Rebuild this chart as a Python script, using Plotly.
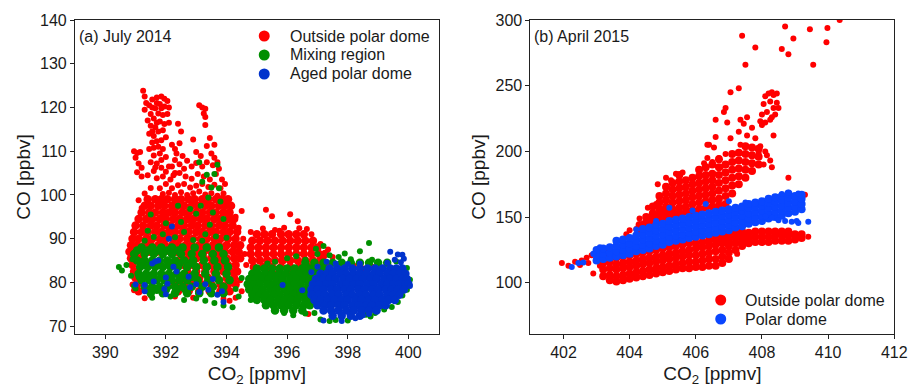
import plotly.graph_objects as go

# ---------------- Panel (a) July 2014 ----------------
# dense rows: (CO [ppbv], [CO2 values])
outside_a_rows = [
    (99.0, [391.4, 391.65, 391.85, 392.05, 392.3, 392.5, 392.75, 392.95, 393.2, 393.4, 393.65, 393.85, 394.05]),
    (97.5, [391.3, 391.5, 391.75, 391.95, 392.2, 392.4, 392.6, 392.85, 393.05, 393.3, 393.5, 393.75, 393.95, 394.15]),
    (96.0, [391.2, 391.45, 391.65, 391.9, 392.1, 392.3, 392.55, 392.75, 393.0, 393.2, 393.45, 393.65, 393.9, 394.1]),
    (94.5, [391.1, 391.35, 391.55, 391.8, 392.0, 392.25, 392.45, 392.7, 392.9, 393.15, 393.35, 393.6, 393.8, 394.05, 394.25]),
    (93.0, [391.0, 391.25, 391.5, 391.7, 391.95, 392.15, 392.4, 392.6, 392.85, 393.05, 393.3, 393.5, 393.75, 393.95, 394.2]),
    (91.5, [390.95, 391.2, 391.4, 391.65, 391.85, 392.1, 392.3, 392.55, 392.75, 393.0, 393.2, 393.45, 393.65, 393.9, 394.1, 394.35]),
    (90.0, [390.9, 391.1, 391.35, 391.55, 391.8, 392.0, 392.25, 392.45, 392.7, 392.9, 393.15, 393.35, 393.6, 393.8, 394.05, 394.3]),
    (88.5, [390.85, 391.05, 391.3, 391.5, 391.75, 391.95, 392.2, 392.4, 392.65, 392.85, 393.1, 393.3, 393.55, 393.75, 394.0, 394.25, 394.45]),
    (87.0, [390.8, 391.0, 391.25, 391.45, 391.7, 391.9, 392.15, 392.35, 392.6, 392.8, 393.05, 393.25, 393.5, 393.7, 393.95, 394.2, 394.4]),
    (85.5, [390.85, 391.1, 392.5, 392.75, 393.0, 393.25, 393.5, 393.75, 394.0, 394.25, 394.45]),
    (84.0, [390.9, 392.6, 392.9, 393.2, 393.5, 393.8, 394.05, 394.3]),
    (82.5, [390.95, 392.7, 393.0, 393.3, 393.6, 393.9, 394.15, 394.35]),
    (81.0, [391.0, 392.5, 392.8, 393.1, 393.4, 393.7, 394.0, 394.25]),
    (79.5, [391.05, 392.3, 392.6, 392.9, 393.2, 393.5, 393.8, 394.05, 394.3]),
    (78.0, [391.1, 392.4, 392.75, 393.1, 393.45, 393.8, 394.1]),
    (91.0, [395.0, 395.25, 395.5, 395.8, 396.05, 396.3, 396.55]),
    (89.5, [394.85, 395.1, 395.35, 395.6, 395.85, 396.1, 396.35, 396.6, 396.85]),
    (88.0, [394.8, 395.05, 395.3, 395.55, 395.8, 396.05, 396.3, 396.55, 396.8, 397.0]),
    (86.5, [394.8, 395.05, 395.3, 395.55, 395.8, 396.05, 396.3, 396.55, 396.8, 397.05, 397.25]),
    (85.0, [394.85, 395.1, 395.35, 395.6, 395.85, 396.1, 396.35, 396.6, 396.85, 397.1]),
    (83.5, [394.9, 395.2, 395.5, 395.8, 396.1, 396.4, 396.7, 397.0, 397.3]),
    (82.0, [395.0, 395.35, 395.7, 396.05, 396.4, 396.75, 397.1]),
]
outside_a_pts = [
    (391.25, 123.8), (391.3, 122.5), (391.35, 121.0), (391.3, 119.5), (391.45, 120.5), (391.55, 121.8),
    (391.7, 122.3), (391.85, 122.5), (391.95, 122.0), (392.05, 121.5), (392.1, 120.0), (391.95, 120.2),
    (391.8, 120.8), (391.65, 119.8), (391.5, 118.5), (391.4, 117.0), (391.6, 117.5), (391.75, 118.6),
    (391.9, 118.3), (392.05, 118.5), (392.1, 116.5), (391.95, 116.2), (391.8, 116.8), (391.65, 115.5),
    (391.5, 115.8), (391.45, 114.0), (391.6, 113.5), (391.75, 114.5), (391.9, 114.8), (392.0, 113.2),
    (391.85, 112.5), (391.55, 112.0), (391.45, 110.5), (391.6, 110.8), (391.75, 111.0), (391.6, 109.0),
    (391.8, 109.5), (391.9, 110.5), (392.0, 108.7), (391.5, 107.5), (391.7, 107.2), (391.85, 106.2),
    (392.1, 106.5), (391.6, 105.5), (391.4, 104.5), (391.7, 103.8), (391.9, 104.2), (392.15, 103.5),
    (392.3, 110.5), (392.3, 105.0), (391.7, 121.0), (391.55, 120.0), (391.7, 116.5), (391.85, 119.8),
    (391.55, 114.5), (391.7, 112.3), (391.85, 108.0), (391.65, 106.3),
    (390.95, 110.0), (391.05, 109.6), (391.15, 109.8), (391.0, 108.5), (391.1, 107.2), (391.2, 106.2),
    (391.05, 105.2), (391.2, 104.2),
    (392.4, 116.3), (392.5, 114.5), (392.45, 111.8),
    (393.1, 120.5), (393.2, 120.0), (393.3, 119.7), (393.25, 118.6), (393.3, 117.8), (393.3, 116.0),
    (392.9, 112.7), (393.0, 109.8), (393.15, 108.9), (393.35, 111.2), (393.5, 109.5), (393.6, 108.5),
    (393.7, 107.5), (393.75, 106.0), (393.55, 106.8), (393.35, 107.5), (393.2, 106.5), (393.0, 107.3),
    (392.85, 106.5), (392.7, 107.8), (392.6, 106.0), (392.45, 107.0), (392.3, 108.0), (392.2, 106.5),
    (392.0, 105.3), (392.25, 104.5), (392.45, 105.0), (392.65, 104.2), (392.85, 103.7), (393.05, 104.8),
    (393.25, 104.2), (393.45, 103.5), (393.65, 104.8), (393.85, 103.5), (393.95, 102.5), (393.8, 101.5),
    (393.6, 102.3), (393.4, 101.8), (393.2, 102.5), (393.0, 102.1), (392.8, 101.7), (392.6, 102.5),
    (392.4, 102.2), (392.2, 101.5), (392.0, 102.5), (391.8, 101.5), (391.9, 100.2), (392.1, 100.5),
    (392.3, 100.0), (392.5, 100.6), (392.7, 100.0), (392.9, 100.4), (393.1, 100.8), (393.3, 100.1),
    (393.5, 100.4), (393.7, 99.8), (393.9, 100.3), (392.55, 108.9), (392.35, 109.5), (393.6, 111.5),
    (393.45, 113.0), (392.2, 111.5), (391.5, 101.6), (391.3, 100.3), (391.1, 98.8), (391.2, 97.0),
    (394.5, 96.3), (394.3, 95.0), (394.4, 92.5), (394.55, 90.0),
    (395.3, 96.6), (395.5, 95.1), (396.1, 95.6), (396.35, 94.0), (395.9, 92.5), (396.65, 92.2),
    (395.75, 91.8), (396.4, 92.4), (395.6, 92.0), (396.8, 91.0), (395.2, 92.3), (394.8, 91.5),
    (397.1, 88.8), (397.35, 87.5), (397.5, 85.8), (397.2, 85.3), (398.2, 83.8), (398.5, 83.2),
    (398.8, 83.6), (399.1, 82.9), (396.7, 72.8), (394.45, 80.5), (394.5, 78.0), (394.3, 76.5),
    (394.1, 75.8), (393.9, 76.2), (392.9, 76.5), (392.3, 76.8), (391.3, 76.4), (391.5, 77.0),
    (390.9, 79.5), (390.95, 78.2), (394.65, 84.0), (394.6, 86.5),
]

mixing_a_rows = [
    (88.0, [391.2, 391.55, 391.85, 392.2, 392.55, 392.95, 393.35, 393.75]),
    (87.3, [391.05, 391.4, 391.75, 392.05, 392.4]),
    (86.5, [390.95, 391.3, 391.6, 391.9, 392.2, 392.5, 392.85, 393.2, 393.55, 393.9]),
    (85.0, [391.05, 391.3, 391.55, 391.8, 392.05, 392.3, 392.6, 392.9, 393.25, 393.6, 393.95]),
    (84.3, [391.2, 391.5, 391.8, 392.1, 392.45, 392.8]),
    (83.5, [391.15, 391.4, 391.65, 391.9, 392.15, 392.4, 392.7, 393.0, 393.35, 393.7, 394.05]),
    (82.0, [391.1, 391.35, 391.6, 391.85, 392.1, 392.35, 392.6, 392.95, 393.3, 393.65, 394.0]),
    (81.3, [391.25, 391.55, 391.85, 392.15, 392.5, 392.85]),
    (80.5, [391.2, 391.45, 391.7, 391.95, 392.2, 392.45, 392.7, 393.05, 393.4, 393.75, 394.1]),
    (79.0, [391.3, 391.55, 391.8, 392.05, 392.3, 392.55, 392.85, 393.2, 393.55, 393.9]),
    (78.3, [391.4, 391.7, 392.0, 392.35, 392.65]),
    (77.5, [391.5, 391.9, 392.3, 392.7, 393.1, 393.5, 393.9]),
    (84.5, [396.6, 396.9, 397.2, 397.5, 397.8, 398.1, 398.4, 398.7, 399.0, 399.3]),
    (83.2, [395.0, 395.25, 395.5, 395.75, 396.0, 396.25, 396.5, 396.75, 397.0, 397.2]),
    (82.0, [394.85, 395.05, 395.3, 395.5, 395.75, 395.95, 396.2, 396.4, 396.65, 396.85, 397.05]),
    (80.8, [394.75, 394.95, 395.2, 395.4, 395.65, 395.85, 396.1, 396.3, 396.55, 396.75, 396.95]),
    (79.6, [394.7, 394.9, 395.1, 395.35, 395.55, 395.8, 396.0, 396.25, 396.45, 396.7, 396.9]),
    (78.4, [394.75, 395.0, 395.2, 395.45, 395.65, 395.9, 396.1, 396.35, 396.55, 396.8]),
    (77.2, [394.85, 395.1, 395.3, 395.55, 395.75, 396.0, 396.2, 396.45, 396.65, 396.85]),
    (76.0, [395.0, 395.25, 395.45, 395.7, 395.9, 396.15, 396.35, 396.6, 396.8]),
    (74.8, [395.3, 395.55, 395.8, 396.05, 396.3, 396.55, 396.75]),
    (73.6, [395.6, 395.9, 396.2, 396.5]),
]
mixing_a_pts = [
    (390.45, 83.5), (390.55, 82.7), (390.7, 84.0), (390.9, 85.3), (390.85, 81.5), (390.95, 79.2),
    (391.0, 78.6), (391.1, 81.2),
    (391.5, 95.5), (391.4, 91.8), (391.6, 90.4), (392.0, 93.5), (392.3, 90.3), (392.6, 91.5),
    (392.9, 89.7), (393.2, 89.5), (393.0, 95.7), (393.15, 97.5), (393.4, 99.4), (393.5, 101.7),
    (393.35, 104.6), (393.2, 103.0), (393.6, 104.8), (393.7, 106.9), (393.1, 107.5), (393.75, 101.5),
    (393.8, 98.5), (392.8, 96.8), (393.55, 96.0), (393.9, 94.5), (392.4, 97.5), (394.0, 90.2),
    (391.3, 89.5), (391.9, 91.0), (392.5, 93.8), (393.45, 93.2), (393.3, 91.0), (393.65, 90.5),
    (391.55, 76.5), (392.15, 76.8), (393.3, 75.8), (393.6, 75.3), (393.9, 74.7), (394.4, 76.8),
    (394.8, 76.0), (393.0, 76.3), (392.6, 76.0), (394.3, 78.5), (394.5, 81.0), (394.2, 74.3),
    (396.95, 87.7), (397.2, 88.3), (397.0, 86.5), (397.4, 86.2), (397.7, 85.8), (398.1, 85.3),
    (398.4, 87.1), (398.7, 89.0), (398.8, 85.2), (396.3, 86.0), (396.0, 85.5), (395.6, 84.7),
    (395.35, 84.3), (396.6, 85.2), (397.9, 86.6), (399.6, 84.8),
    (397.1, 71.5), (397.4, 71.2), (397.6, 71.4), (398.0, 71.3), (398.6, 72.6), (398.9, 73.0),
    (399.2, 73.8), (399.45, 74.4), (399.65, 75.5), (399.8, 77.0), (399.95, 78.3), (400.05, 80.6),
    (399.95, 83.3), (398.75, 72.2), (396.2, 72.5), (395.9, 73.0), (396.9, 73.0), (396.6, 72.9),
]

aged_a_rows = [
    (83.2, [397.4, 397.65, 397.9, 398.15, 398.4, 398.65, 398.9, 399.15, 399.4, 399.6, 399.8]),
    (82.0, [397.1, 397.3, 397.5, 397.75, 397.95, 398.2, 398.4, 398.6, 398.85, 399.05, 399.3, 399.5, 399.7, 399.9]),
    (80.8, [396.95, 397.2, 397.4, 397.6, 397.85, 398.05, 398.3, 398.5, 398.75, 398.95, 399.2, 399.4, 399.6, 399.8, 399.95]),
    (79.6, [396.85, 397.05, 397.3, 397.5, 397.75, 397.95, 398.2, 398.4, 398.65, 398.85, 399.1, 399.3, 399.5, 399.7, 399.9, 400.0]),
    (78.4, [396.8, 397.0, 397.2, 397.45, 397.65, 397.9, 398.1, 398.35, 398.55, 398.8, 399.0, 399.25, 399.45, 399.65, 399.85]),
    (77.2, [396.8, 397.05, 397.25, 397.5, 397.7, 397.95, 398.15, 398.4, 398.6, 398.85, 399.05, 399.3, 399.5, 399.7]),
    (76.0, [396.9, 397.1, 397.35, 397.55, 397.8, 398.0, 398.25, 398.45, 398.7, 398.9, 399.15, 399.35, 399.55]),
    (74.8, [397.0, 397.25, 397.45, 397.7, 397.9, 398.15, 398.35, 398.6, 398.8, 399.05, 399.25]),
    (73.6, [397.2, 397.45, 397.7, 397.95, 398.2, 398.45, 398.7, 398.95]),
    (72.4, [397.5, 397.8, 398.1, 398.4]),
]
aged_a_pts = [
    (399.4, 87.0), (399.65, 86.4), (399.8, 86.3), (399.75, 84.6), (399.55, 85.2), (399.85, 85.4),
    (399.3, 84.5), (397.6, 84.3), (398.0, 84.2), (398.4, 84.3), (397.3, 84.7), (396.8, 82.3),
    (397.0, 83.6), (397.2, 71.3), (397.8, 71.2), (398.25, 71.8), (398.5, 72.5), (400.05, 79.2),
    (398.7, 72.8),
    (391.0, 79.5), (391.3, 78.0), (391.6, 80.2), (391.75, 85.0), (391.55, 84.3), (391.65, 84.8),
    (392.1, 90.0), (392.2, 92.8), (392.0, 77.3), (392.05, 79.7), (391.95, 78.5), (392.25, 83.6),
    (392.35, 82.5), (392.75, 81.3), (392.8, 78.9), (393.0, 79.6), (393.1, 77.8), (393.3, 79.6),
    (393.4, 78.3), (393.55, 80.8), (393.7, 77.2), (393.85, 78.0), (393.9, 75.5), (395.85, 79.4),
    (396.5, 78.2), (391.3, 79.4), (392.0, 81.1),
]

# ---------------- Panel (b) April 2015 ----------------
# dense columns: (CO2 [ppmv], [CO values])
outside_b_cols = [
    (403.2, [105, 110, 115, 120, 124]),
    (403.4, [102, 106, 111, 116, 121]),
    (403.6, [101, 105, 110, 114, 119, 123]),
    (403.8, [102, 106, 111, 115, 120, 125]),
    (404.0, [103, 107, 112, 116, 121, 126]),
    (404.2, [104, 108, 113, 117, 122, 127]),
    (404.4, [105, 109, 114, 118, 123, 128]),
    (404.6, [106, 110, 115, 119, 124, 129]),
    (404.8, [107, 111, 116, 120, 125, 130]),
    (405.0, [108, 112, 117, 121, 126, 131]),
    (405.2, [109, 113, 118, 122, 127, 132]),
    (405.4, [110, 114, 119, 123, 128, 132]),
    (405.6, [111, 115, 120, 124, 129, 133]),
    (405.8, [111, 116, 121, 125, 130, 134]),
    (406.0, [112, 116, 121, 126, 130, 135]),
    (406.2, [112, 117, 122, 127, 131, 136]),
    (406.4, [113, 118, 123, 128, 132, 136]),
    (406.6, [113, 118, 124, 129, 133, 137]),
    (406.8, [115, 120, 125, 130, 134, 138]),
    (407.0, [118, 123, 128, 132, 136, 139]),
    (407.2, [125, 130, 134, 138]),
    (407.4, [128, 132, 136, 139]),
    (407.6, [130, 134, 138]),
    (407.8, [131, 135, 139]),
    (408.0, [131, 135, 139]),
    (408.2, [131, 135, 139]),
    (408.4, [132, 136, 139]),
    (408.6, [132, 136, 139]),
    (408.8, [132, 136, 139]),
    (409.0, [133, 137]),
    (409.2, [134, 137]),
    # upper cloud above the polar-dome band
    (404.3, [140, 144]),
    (404.5, [142, 146, 150]),
    (404.7, [145, 149, 153, 158]),
    (404.9, [148, 152, 156, 161, 166]),
    (405.1, [150, 154, 158, 163, 168, 173]),
    (405.3, [152, 156, 161, 166, 171, 176]),
    (405.5, [153, 157, 162, 167, 172, 177, 182]),
    (405.7, [154, 158, 163, 168, 173, 178]),
    (405.9, [155, 160, 165, 170, 175, 180]),
    (406.1, [156, 161, 166, 171, 176, 181, 186]),
    (406.3, [157, 162, 167, 172, 177, 182, 188]),
    (406.5, [158, 163, 168, 173, 178, 183, 190]),
    (406.7, [159, 164, 170, 176, 182, 188, 194]),
    (406.9, [160, 166, 172, 178, 184, 190]),
    (407.1, [168, 174, 180, 186, 192, 198]),
    (407.3, [175, 181, 187, 193, 199]),
    (407.5, [180, 186, 192, 198, 204]),
    (407.7, [185, 191, 197, 203]),
    (407.9, [190, 196, 202]),
]
outside_b_pts = [
    (401.95, 115), (402.15, 113), (402.35, 116), (402.55, 117), (402.7, 119), (402.85, 121),
    (402.9, 107), (403.0, 118), (403.05, 123), (403.1, 113), (402.75, 115), (402.5, 113.5),
    (403.9, 137), (404.0, 140), (404.2, 141), (404.4, 145), (404.3, 149), (404.6, 148), (404.7, 152),
    (404.55, 157), (404.8, 160), (404.95, 153), (405.1, 150), (404.85, 175),
    (405.25, 178), (405.4, 183), (405.6, 184), (405.1, 180),
    (406.25, 191), (406.35, 195), (406.5, 192),
    (406.35, 205), (406.55, 203), (406.7, 195), (406.75, 188),
    (406.9, 198), (407.35, 205),
    (407.55, 212), (407.7, 218), (407.45, 221), (407.35, 224), (407.55, 226), (407.8, 210), (407.95, 204),
    (408.1, 200), (408.25, 193), (408.3, 188), (408.15, 197), (407.9, 199), (408.05, 190),
    (407.3, 215), (407.05, 210), (406.6, 211), (406.9, 233), (406.85, 230),
    (406.95, 222), (406.6, 224), (406.4, 205),
    (408.0, 228), (408.05, 236), (408.1, 242), (408.2, 244), (408.3, 245), (408.35, 243), (408.45, 244),
    (408.25, 238), (408.35, 233), (408.15, 230), (408.4, 228), (408.5, 233), (408.45, 237), (408.25, 224),
    (408.1, 222), (408.3, 226), (408.0, 220), (407.95, 223),
    (407.3, 248), (407.05, 245), (407.5, 266), (407.4, 288), (407.8, 279), (408.6, 278), (408.8, 274),
    (408.7, 295), (408.95, 286), (409.45, 293), (409.95, 283), (409.98, 294), (410.35, 300),
    (409.55, 266), (408.35, 212), (408.8, 180), (409.3, 167), (409.4, 135), (407.25, 122),
]

polar_b_cols = [
    (403.0, [117, 121, 125]),
    (403.2, [118, 122, 126]),
    (403.4, [119, 123, 127]),
    (403.6, [120, 124, 128, 132]),
    (403.8, [121, 125, 129, 133]),
    (404.0, [122, 126, 130, 134]),
    (404.2, [124, 128, 132, 136]),
    (404.4, [125, 129, 133, 137, 141]),
    (404.6, [126, 130, 134, 138, 142]),
    (404.8, [128, 132, 136, 140, 144]),
    (405.0, [129, 133, 137, 141, 145]),
    (405.2, [131, 135, 139, 143, 147]),
    (405.4, [132, 136, 140, 144, 148]),
    (405.6, [133, 137, 141, 145, 149]),
    (405.8, [134, 138, 142, 146, 150]),
    (406.0, [135, 139, 143, 147, 151]),
    (406.2, [136, 140, 144, 148, 152]),
    (406.4, [137, 141, 145, 149, 153]),
    (406.6, [138, 142, 146, 150, 154]),
    (406.8, [139, 143, 147, 151, 155]),
    (407.0, [140, 144, 148, 152, 156]),
    (407.2, [142, 146, 150, 154, 157]),
    (407.4, [143, 147, 151, 155, 158]),
    (407.6, [145, 149, 153, 157, 160]),
    (407.8, [146, 150, 154, 158, 161]),
    (408.0, [147, 151, 155, 159, 162]),
    (408.2, [149, 153, 157, 161, 164]),
    (408.4, [150, 154, 158, 162, 165]),
    (408.6, [151, 155, 159, 163, 166]),
    (408.8, [153, 157, 161, 165, 168]),
    (409.0, [154, 158, 162, 166]),
    (409.2, [156, 160, 164, 167]),
]
polar_b_pts = [
    (402.25, 112), (402.45, 115), (402.6, 115.5), (402.9, 122), (403.1, 127), (404.2, 140.5),
    (405.2, 157), (406.3, 160), (407.0, 162), (408.5, 147.5), (408.7, 147), (408.9, 146.5),
    (409.05, 147), (409.1, 145.5), (409.4, 146.5), (408.3, 149.5), (408.1, 150.5), (409.1, 168),
    (408.6, 167.5), (408.8, 168.5), (407.5, 161), (405.9, 155), (404.8, 147),
]

legend_a_names = ["Outside polar dome", "Mixing region", "Aged polar dome"]
legend_b_names = ["Outside polar dome", "Polar dome"]

RED = "#ff0000"
GREEN = "#008f00"
BLUE_A = "#0033cc"
BLUE_B = "#0a46ff"
FONT = "Liberation Sans, Arial, sans-serif"
TXT = "#1a1a1a"
DENSE_A, DENSE_B, SPARSE = 8.5, 8.0, 6.0


def from_rows(rows, pts, dense):
    xs, ys, ss = [], [], []
    for y, xlist in rows:
        for x in xlist:
            xs.append(x); ys.append(y); ss.append(dense)
    for x, y in pts:
        xs.append(x); ys.append(y); ss.append(SPARSE)
    return xs, ys, ss


def from_cols(cols, pts, dense):
    xs, ys, ss = [], [], []
    for x, ylist in cols:
        for y in ylist:
            xs.append(x); ys.append(y); ss.append(dense)
    for x, y in pts:
        xs.append(x); ys.append(y); ss.append(SPARSE)
    return xs, ys, ss


fig = go.Figure()


def add_series(data, color, name, xa, ya):
    xs, ys, ss = data
    fig.add_trace(go.Scatter(x=xs, y=ys, mode="markers", xaxis=xa, yaxis=ya, name=name,
                             marker=dict(color=color, size=ss, opacity=1, line=dict(width=0)),
                             showlegend=False, hoverinfo="skip"))


add_series(from_rows(outside_a_rows, outside_a_pts, DENSE_A), RED, legend_a_names[0], "x", "y")
add_series(from_rows(mixing_a_rows, mixing_a_pts, DENSE_A), GREEN, legend_a_names[1], "x", "y")
add_series(from_rows(aged_a_rows, aged_a_pts, DENSE_A), BLUE_A, legend_a_names[2], "x", "y")
add_series(from_cols(outside_b_cols, outside_b_pts, DENSE_B), RED, legend_b_names[0], "x2", "y2")
add_series(from_cols(polar_b_cols, polar_b_pts, DENSE_B), BLUE_B, legend_b_names[1], "x2", "y2")

W, H = 924, 387
TOP, BOTTOM = 20, 334
PLOT_H = BOTTOM - TOP


def py(pix):  # pixel row -> paper y
    return (BOTTOM - pix) / PLOT_H


axis_common = dict(showline=True, linecolor="#222222", linewidth=1, mirror=True,
                   ticks="outside", ticklen=4, tickcolor="#222222", showgrid=False,
                   zeroline=False, tickfont=dict(size=16, color=TXT, family=FONT))

shapes, annotations = [], []
# manual legends (marker dot + label)
for names, colors, mx, tx, rows in [
    (legend_a_names, [RED, GREEN, BLUE_A], 268, 292, [36, 55, 74]),
    (legend_b_names, [RED, BLUE_B], 731, 754, [300, 319]),
]:
    for name, color, row in zip(names, colors, rows):
        shapes.append(dict(type="circle", xref="paper", yref="paper", xsizemode="pixel",
                           ysizemode="pixel", xanchor=mx / W, yanchor=py(row),
                           x0=-5.5, x1=5.5, y0=-5.5, y1=5.5, fillcolor=color,
                           line=dict(width=0)))
        annotations.append(dict(text=name, x=tx / W, y=py(row), xref="paper", yref="paper",
                                xanchor="left", yanchor="middle", showarrow=False,
                                font=dict(size=16, color=TXT, family=FONT)))

annotations += [
    dict(text="(a) July 2014", x=78 / W, y=py(36), xref="paper", yref="paper",
         xanchor="left", yanchor="middle", showarrow=False, font=dict(size=16, color=TXT)),
    dict(text="(b) April 2015", x=540 / W, y=py(36), xref="paper", yref="paper",
         xanchor="left", yanchor="middle", showarrow=False, font=dict(size=16, color=TXT)),
]

fig.update_layout(
    width=W, height=H,
    margin=dict(l=0, r=0, t=TOP, b=H - BOTTOM),
    paper_bgcolor="white", plot_bgcolor="white",
    font=dict(family=FONT, size=16, color=TXT),
    showlegend=False,
    xaxis=dict(domain=[76 / W, 445 / W], range=[389, 401], tickvals=[390, 392, 394, 396, 398, 400],
               title=dict(text="CO<sub>2</sub> [ppmv]", standoff=9), anchor="y", **axis_common),
    yaxis=dict(domain=[0, 1], range=[68.2, 140], tickvals=[70, 80, 90, 100, 110, 120, 130, 140],
               title=dict(text="CO [ppbv]", standoff=4), anchor="x", **axis_common),
    xaxis2=dict(domain=[538 / W, 907 / W], range=[401, 412], tickvals=[402, 404, 406, 408, 410, 412],
                title=dict(text="CO<sub>2</sub> [ppmv]", standoff=9), anchor="y2", **axis_common),
    yaxis2=dict(domain=[0, 1], range=[61, 300], tickvals=[100, 150, 200, 250, 300],
                title=dict(text="CO [ppbv]", standoff=4), anchor="x2", **axis_common),
    shapes=shapes,
    annotations=annotations,
)

fig.write_html("out.html")
